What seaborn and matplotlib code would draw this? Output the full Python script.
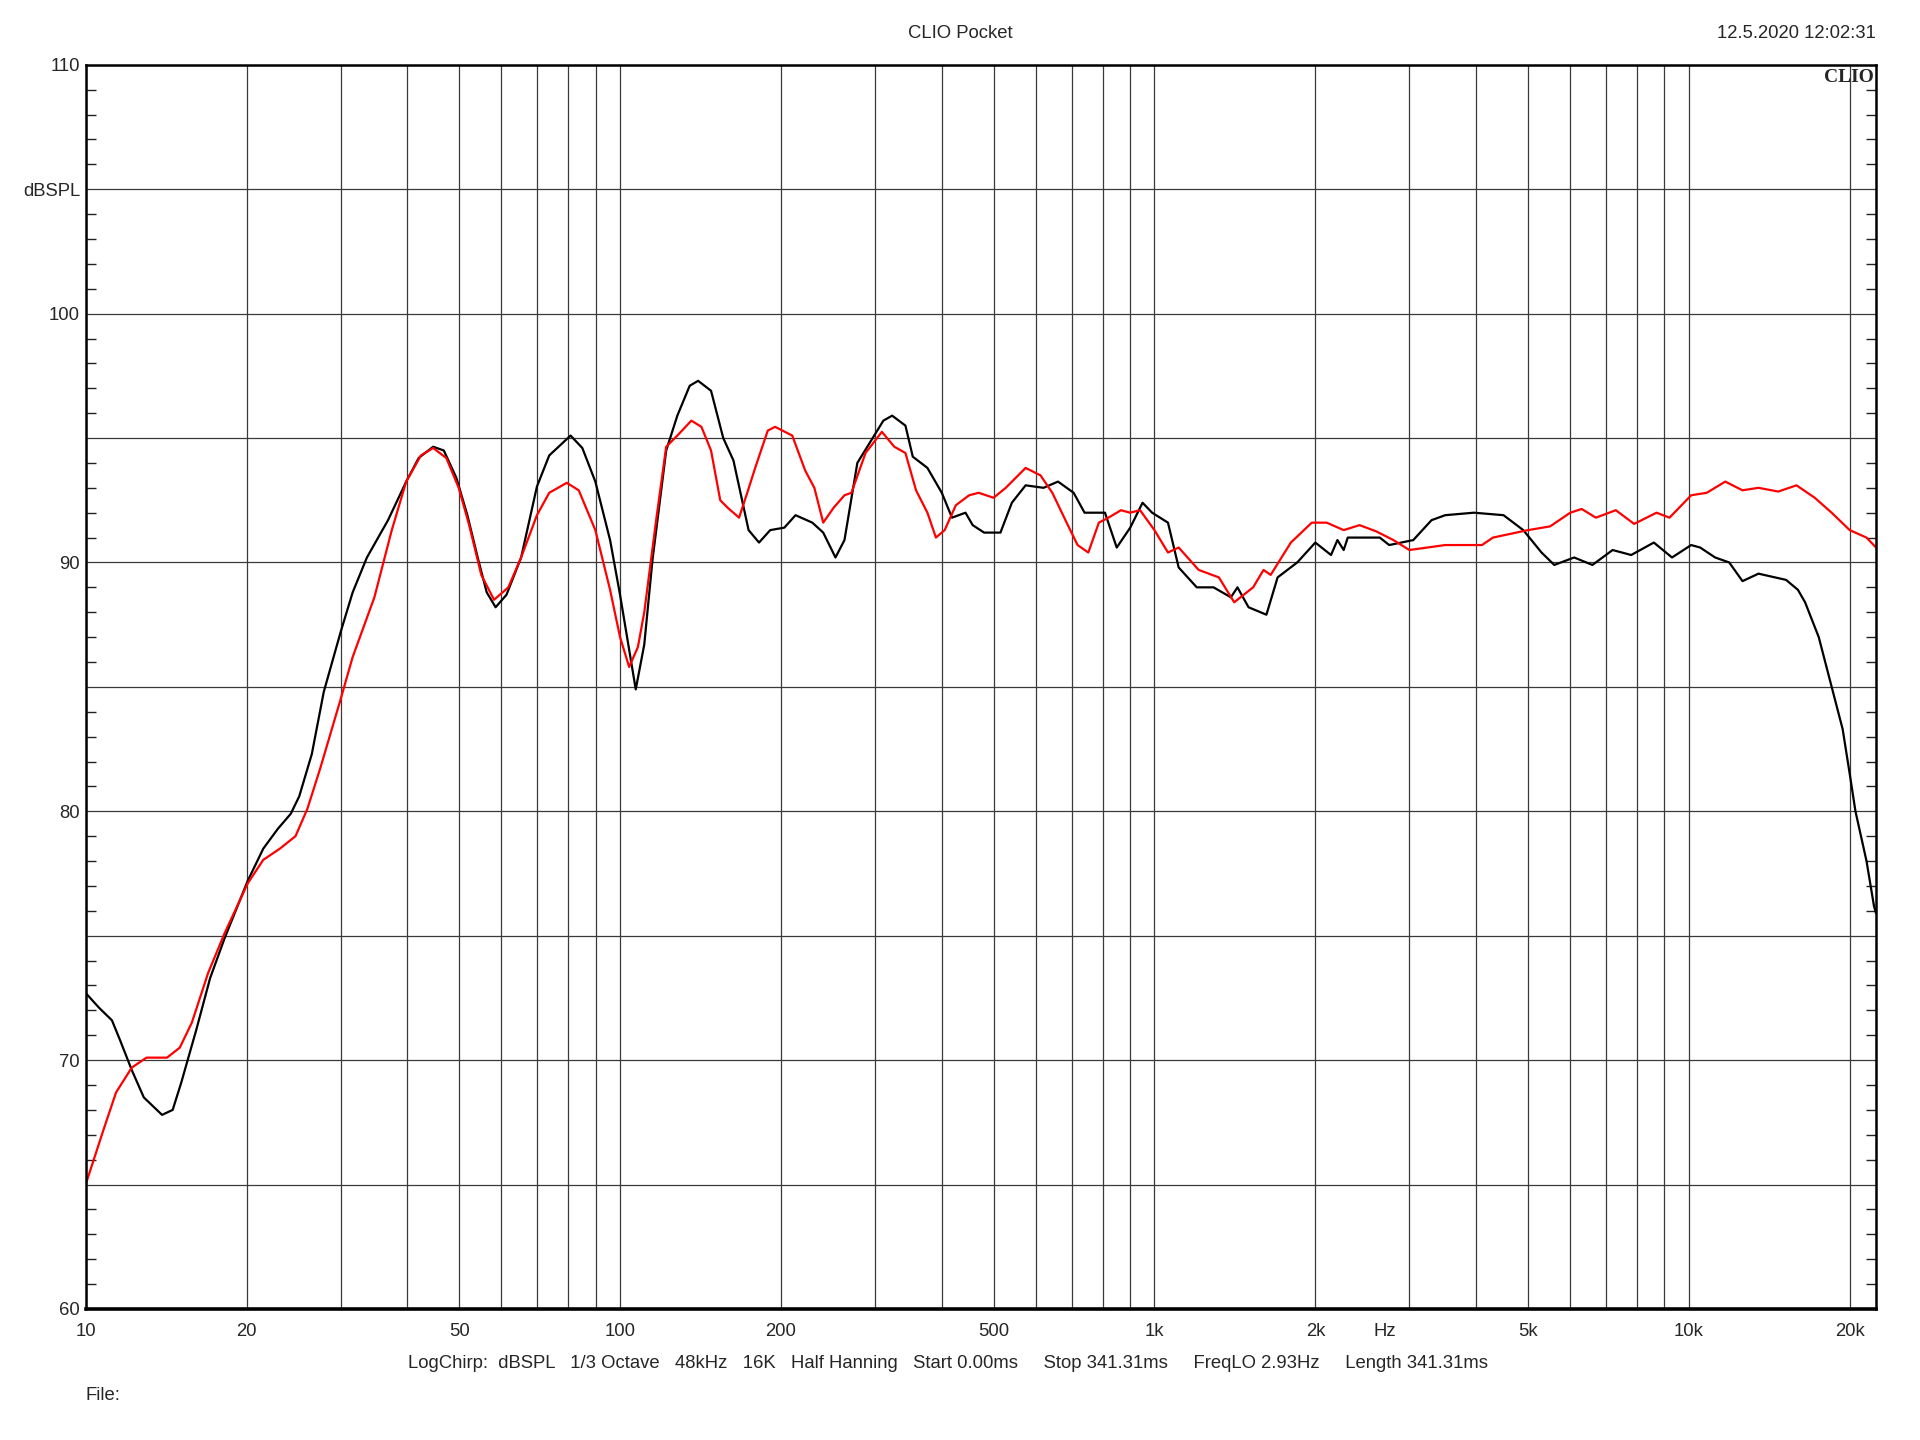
import numpy as np
import pandas as pd
import matplotlib
matplotlib.use('Agg')
import matplotlib.pyplot as plt
from matplotlib.ticker import FixedLocator, MultipleLocator
import seaborn as sns

# black trace (Hz, dBSPL)
black_freq = [10, 10.6, 11.2, 11.6, 12.2, 12.85, 13.9, 14.55, 15.1, 16.1, 17.1, 18.2, 20.1, 21.5,
              22.9, 24.2, 25.1, 26.5, 27.9, 30, 31.6, 33.6, 36.8, 39.8, 42, 44.7, 46.8, 49.4, 51.8,
              54.3, 56.3, 58.5, 61.3, 65.3, 69.9, 73.7, 80.8, 85, 89.9, 95.8, 100, 104, 107, 111,
              115, 122, 128, 135, 140, 148, 156, 163, 168, 174, 182, 191, 203, 213, 229, 240, 253,
              263, 278, 293, 311, 323, 342, 353, 376, 400, 418, 443, 457, 480, 515, 541, 574, 620,
              660, 706, 740, 808, 850, 901, 950, 990, 1060, 1110, 1200, 1290, 1390, 1430, 1500,
              1620, 1700, 1850, 2000, 2140, 2200, 2260, 2300, 2640, 2750, 3050, 3300, 3500, 3960,
              4500, 4900, 5300, 5600, 6100, 6600, 7200, 7800, 8600, 9300, 10100, 10500, 11200,
              11900, 12600, 13500, 15200, 16000, 16500, 17500, 18500, 19400, 20000, 20500, 21500,
              22200, 22400]
black_spl = [72.7, 72.1, 71.6, 70.8, 69.6, 68.5, 67.8, 68.0, 69.1, 71.2, 73.3, 74.9, 77.2, 78.5,
             79.3, 79.9, 80.6, 82.3, 84.8, 87.2, 88.8, 90.2, 91.7, 93.25, 94.2, 94.65, 94.5, 93.4, 91.9,
             90.1, 88.8, 88.2, 88.7, 90.2, 93.05, 94.3, 95.1, 94.6, 93.25, 90.9, 88.7, 86.5, 84.9, 86.7,
             90.1, 94.5, 95.9, 97.1, 97.3, 96.9, 95.0, 94.1, 92.8, 91.3, 90.8, 91.3, 91.4, 91.9, 91.6, 91.2, 90.2,
             90.9, 94.0, 94.8, 95.7, 95.9, 95.5, 94.25, 93.8, 92.8, 91.8, 92.0, 91.5, 91.2, 91.2, 92.4, 93.1, 93.0,
             93.25, 92.8, 92.0, 92.0, 90.6, 91.4, 92.4, 92.0, 91.6, 89.8, 89.0, 89.0, 88.6, 89.0, 88.2,
             87.9, 89.4, 90.0, 90.8, 90.3, 90.9, 90.5, 91.0, 91.0, 90.7, 90.9, 91.7, 91.9, 92.0,
             91.9, 91.3, 90.4, 89.9, 90.2, 89.9, 90.5, 90.3, 90.8, 90.2, 90.7, 90.6, 90.2,
             90.0, 89.25, 89.55, 89.3, 88.9, 88.4, 87.0, 85.0, 83.3, 81.5, 80.0, 78.0,
             76.2, 75.9]

# red trace (Hz, dBSPL)
red_freq = [10, 10.8, 11.4, 12.2, 13.0, 14.2, 15.0, 15.8, 16.95, 18.2, 20.1, 21.5, 23.1, 24.7, 26.0,
            27.5, 30, 31.6, 34.7, 37.4, 39.8, 42.4, 44.7, 47.3, 49.9, 52.2, 55, 58.1, 61.8, 65.3, 69.9,
            73.7, 79.5, 83.7, 89.9, 95.8, 100, 104, 108, 111, 117, 122, 128, 136, 142, 148, 154, 159,
            167, 173, 179, 189, 195, 210, 222, 231, 240, 251, 263, 271, 288, 309, 326, 342, 358, 376,
            390, 405, 425, 450, 469, 500, 527, 550, 574, 612, 644, 685, 718, 752, 787, 820, 866, 900,
            940, 1000, 1060, 1110, 1210, 1320, 1410, 1530, 1600, 1650, 1800, 1970, 2100, 2260, 2420,
            2600, 2800, 3000, 3500, 4100, 4300, 5000, 5500, 6000, 6300, 6700, 7300, 7900, 8700, 9200,
            10100, 10800, 11700, 12600, 13500, 14700, 15900, 17200, 18500, 20000, 21500, 22400]
red_spl = [65.0, 67.2, 68.7, 69.7, 70.1, 70.1, 70.5, 71.5, 73.5, 75.1, 77.1, 78.05, 78.5, 79.0, 80.1,
           81.75, 84.5, 86.2, 88.6, 91.3, 93.25, 94.3, 94.6, 94.2, 93.0, 91.5, 89.5, 88.5, 89.0, 90.2, 91.9,
           92.8, 93.2, 92.9, 91.3, 88.9, 87.0, 85.8, 86.6, 88.0, 91.8, 94.65, 95.1, 95.7, 95.45, 94.5, 92.5, 92.2,
           91.8, 92.8, 93.8, 95.3, 95.45, 95.1, 93.7, 93.0, 91.6, 92.2, 92.7, 92.8, 94.4, 95.25, 94.65, 94.4, 92.9, 92.0,
           91.0, 91.3, 92.3, 92.7, 92.8, 92.6, 93.0, 93.4, 93.8, 93.5, 92.8, 91.6, 90.7, 90.4, 91.6, 91.8, 92.1, 92.0,
           92.1, 91.3, 90.4, 90.6, 89.7, 89.4, 88.4, 89.0, 89.7, 89.5, 90.8, 91.6, 91.6, 91.3, 91.5,
           91.25, 90.9, 90.5, 90.7, 90.7, 91.0, 91.3, 91.45, 92.0, 92.15, 91.8, 92.1, 91.55, 92.0, 91.8,
           92.7, 92.8, 93.25, 92.9, 93.0, 92.85, 93.1, 92.6, 92.0, 91.3, 91.0, 90.6]

x_grid = [m * 10 ** e for e in range(1, 4) for m in range(1, 10)] + [10000, 20000]
x_labels = {10: '10', 20: '20', 50: '50', 100: '100', 200: '200', 500: '500',
            1000: '1k', 2000: '2k', 5000: '5k', 10000: '10k', 20000: '20k'}
y_labels = {60: '60', 70: '70', 80: '80', 90: '90', 100: '100', 105: 'dBSPL', 110: '110'}

info_line = ('LogChirp:  dBSPL   1/3 Octave   48kHz   16K   Half Hanning   Start 0.00ms     '
             'Stop 341.31ms     FreqLO 2.93Hz     Length 341.31ms')

df = pd.concat([
    pd.DataFrame({'freq': black_freq, 'spl': black_spl, 'trace': 'black'}),
    pd.DataFrame({'freq': red_freq, 'spl': red_spl, 'trace': 'red'}),
])

sns.set_style('white')
plt.rcParams['font.family'] = ['Liberation Sans', 'DejaVu Sans']
fs = 13.3

fig = plt.figure(figsize=(19.2, 14.4), dpi=100)
ax = fig.add_axes([0.0446, 0.091, 0.9325, 0.864])

sns.lineplot(data=df, x='freq', y='spl', hue='trace',
             palette={'black': '#000000', 'red': '#ff0000'},
             estimator=None, sort=False, legend=False, linewidth=1.6, ax=ax)

ax.set_xscale('log')
ax.set_xlim(10, 22400)
ax.set_ylim(60, 110)

ax.xaxis.set_major_locator(FixedLocator(x_grid))
ax.xaxis.set_minor_locator(FixedLocator([]))
ax.set_xticklabels([x_labels.get(v, '') for v in x_grid])
ax.set_yticks(np.arange(60, 111, 5))
ax.set_yticklabels([y_labels.get(int(v), '') for v in np.arange(60, 111, 5)])
ax.yaxis.set_minor_locator(MultipleLocator(1))

ax.grid(True, which='major', color='#3a3a3a', linewidth=0.9)
ax.tick_params(axis='x', which='both', length=0, pad=10, labelsize=fs)
ax.tick_params(axis='y', which='major', length=0, pad=4, labelsize=fs)
ax.tick_params(axis='y', which='minor', direction='in', length=7, width=1.0,
               left=True, right=True, color='#222222')
ax.set_xlabel('')
ax.set_ylabel('')
for side in ['top', 'left', 'right']:
    ax.spines[side].set_color('black')
    ax.spines[side].set_linewidth(1.8)
ax.spines['bottom'].set_color('black')
ax.spines['bottom'].set_linewidth(2.6)

# "Hz" sits on the tick label row, between 2k and 3k
ax.annotate('Hz', xy=(2700, 60), xycoords='data', xytext=(0, -10), textcoords='offset points',
            ha='center', va='top', fontsize=fs)
ax.text(0.999, 0.997, 'CLIO', transform=ax.transAxes, ha='right', va='top',
        fontsize=14, fontweight='bold', family=['Liberation Serif', 'DejaVu Serif'])

fig.text(0.5, 0.977, 'CLIO Pocket', ha='center', va='center', fontsize=fs)
fig.text(0.977, 0.977, '12.5.2020 12:02:31', ha='right', va='center', fontsize=fs)
fig.text(0.494, 0.0528, info_line, ha='center', va='center', fontsize=fs)
fig.text(0.0446, 0.0306, 'File:', ha='left', va='center', fontsize=fs)

fig.savefig('out.png', dpi=100, facecolor='white')
